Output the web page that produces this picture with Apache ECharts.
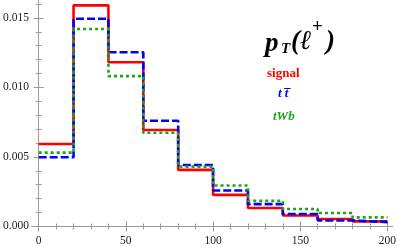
<!DOCTYPE html>
<html><head><meta charset="utf-8">
<script src="https://cdn.jsdelivr.net/npm/echarts@6/dist/echarts.min.js"></script>
<style>html,body{margin:0;padding:0;background:#fff}#c{width:399px;height:247px}</style>
</head><body><div id="c"></div>
<script>
// bin edges (pT, GeV) and normalized distributions per bin
const binEdges = [0, 20, 40, 60, 80, 100, 120, 140, 160, 180, 200];
const signal = [0.00593, 0.0159, 0.01181, 0.00693, 0.00407, 0.00227, 0.00132, 0.00079, 0.00053, 0.00036];
const ttbar  = [0.00497, 0.01494, 0.01253, 0.0076, 0.00442, 0.00258, 0.0016, 0.00089, 0.00043, 0.00031];
const tWb    = [0.00531, 0.0142, 0.01081, 0.00674, 0.0043, 0.00294, 0.00184, 0.00125, 0.00096, 0.00065];
const xMajorTicks = [0, 50, 100, 150, 200];
const xMinorTicks = [10, 20, 30, 40, 60, 70, 80, 90, 110, 120, 130, 140, 160, 170, 180, 190];
const yMajorTicks = [0, 0.005, 0.010, 0.015];
const yMinorTicks = [0.001, 0.002, 0.003, 0.004, 0.006, 0.007, 0.008, 0.009, 0.011, 0.012, 0.013, 0.014, 0.016];

const XMIN = -3.9, XMAX = 202.8, YMIN = -0.000186, YMAX = 0.01625;
const FRAME = '#999999';
const FONT = '"Liberation Serif", "Times New Roman", serif';

function toStep(vals) {
  return binEdges.map((e, i) => [e, vals[Math.min(i, vals.length - 1)]]);
}

function xAx(pos, ticks, len, labels, line) {
  return {
    type: 'value', position: pos, min: XMIN, max: XMAX,
    axisLine: { show: line, lineStyle: { color: FRAME, width: 1 } },
    axisTick: { show: true, inside: true, length: len, customValues: ticks, lineStyle: { color: FRAME } },
    axisLabel: labels ? { show: true, customValues: ticks, color: '#222', fontFamily: FONT, fontSize: 11.5, margin: 6 } : { show: false },
    splitLine: { show: false }
  };
}
function yAx(pos, ticks, len, labels, line) {
  return {
    type: 'value', position: pos, min: YMIN, max: YMAX,
    axisLine: { show: line, lineStyle: { color: FRAME, width: 1 } },
    axisTick: { show: true, inside: true, length: len, customValues: ticks, lineStyle: { color: FRAME } },
    axisLabel: labels ? { show: true, customValues: ticks, color: '#222', fontFamily: FONT, fontSize: 11.5, margin: 3,
      formatter: v => v.toFixed(3) } : { show: false },
    splitLine: { show: false }
  };
}

const chart = echarts.init(document.getElementById('c'), null, { renderer: 'canvas' });
const txt = (x, y, t, size, color, style, weight) => ({
  type: 'text', x: x, y: y, z: 100,
  style: { text: t, fill: color, font: `${style} ${weight} ${size}px ${FONT}`, verticalAlign: 'middle', align: 'left' }
});
chart.setOption({
  animation: false,
  grid: { left: 26, right: 2, top: 0.5, bottom: 17.7, containLabel: false },
  xAxis: [
    xAx('bottom', xMajorTicks, 5, true, true),
    xAx('bottom', xMinorTicks, 3, false, false),
    xAx('top', xMajorTicks, 5, false, true),
    xAx('top', xMinorTicks, 3, false, false)
  ],
  yAxis: [
    yAx('left', yMajorTicks, 5, true, true),
    yAx('left', yMinorTicks, 3, false, false),
    yAx('right', yMajorTicks, 5, false, true),
    yAx('right', yMinorTicks, 3, false, false)
  ],
  series: [
    { name: 'signal', type: 'line', step: 'end', data: toStep(signal), symbol: 'none',
      lineStyle: { color: '#ff0000', width: 2.6 }, z: 2 },
    { name: 'ttbar', type: 'line', step: 'end', data: toStep(ttbar), symbol: 'none',
      lineStyle: { color: '#0000ff', width: 2.6, type: [8, 3] }, z: 3 },
    { name: 'tWb', type: 'line', step: 'end', data: toStep(tWb), symbol: 'none',
      lineStyle: { color: '#1aa61a', width: 2.6, type: [3, 3] }, z: 4 }
  ],
  graphic: [
    txt(265, 44, 'p', 27, '#000', 'italic', 'bold'),
    txt(281, 49, 'T', 15, '#000', 'italic', 'bold'),
    txt(291, 42, '(ℓ', 27, '#000', 'italic', 'bold'),
    txt(312, 27, '+', 19, '#000', 'normal', 'bold'),
    txt(326, 42, ')', 27, '#000', 'italic', 'bold'),
    txt(267, 74, 'signal', 13, '#ff0000', 'normal', 'bold'),
    txt(278, 94, 't t\u0305', 13, '#0000ff', 'italic', 'bold'),
    txt(273, 117, 'tWb', 13, '#1aa61a', 'italic', 'bold')
  ]
});
</script></body></html>
